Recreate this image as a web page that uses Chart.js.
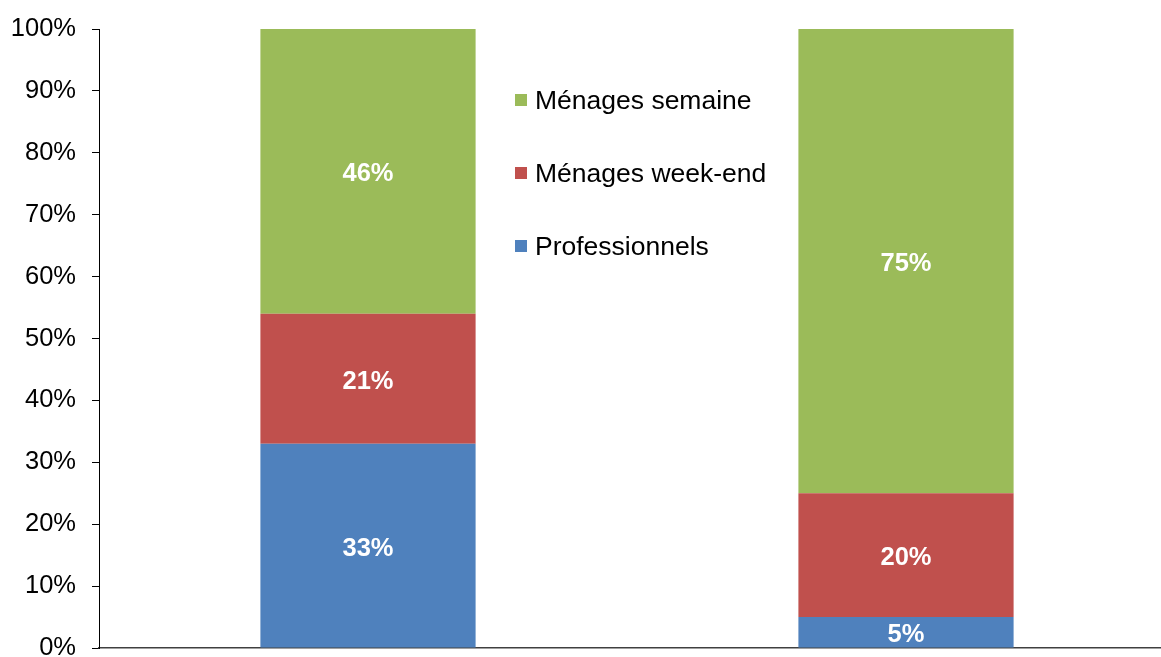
<!DOCTYPE html>
<html>
<head>
<meta charset="utf-8">
<script src="https://cdn.jsdelivr.net/npm/chart.js@4.4.1/dist/chart.umd.min.js"></script>
<style>
    html, body { margin: 0; padding: 0; background: #fff; overflow: hidden; }
    #wrap { position: relative; width: 1175px; height: 700px; }
    #legend { position: absolute; left: 515px; top: 84px; font-family: 'Liberation Sans', Arial, sans-serif; font-size: 26.5px; color: #000; line-height: 32px; }
    #legend .item { height: 73px; display: flex; align-items: flex-start; }
    #legend .box { width: 12px; height: 12px; margin-top: 10px; margin-right: 8px; }
</style>
</head>
<body>
<div id="wrap">
    <canvas id="chart" width="1175" height="700"></canvas>
    <div id="legend"></div>
</div>
<script>
const categories = ['A', 'B'];
const professionnels = [33, 5];
const menagesWeekEnd = [21, 20];
const menagesSemaine = [46, 75];
const yTicks = [0, 10, 20, 30, 40, 50, 60, 70, 80, 90, 100];

const datasets = [
    { label: 'Professionnels', data: professionnels, backgroundColor: '#4F81BD' },
    { label: 'Ménages week-end', data: menagesWeekEnd, backgroundColor: '#C0504D' },
    { label: 'Ménages semaine', data: menagesSemaine, backgroundColor: '#9BBB59' }
];

const legend = document.getElementById('legend');
datasets.slice().reverse().forEach(ds => {
    const item = document.createElement('div');
    item.className = 'item';
    item.innerHTML = '<span class="box" style="background:' + ds.backgroundColor + '"></span><span>' + ds.label + '</span>';
    legend.appendChild(item);
});

const barLabels = {
    id: 'barLabels',
    afterDatasetsDraw(chart) {
        const ctx = chart.ctx;
        ctx.save();
        ctx.fillStyle = '#fff';
        ctx.font = 'bold 25.5px "Liberation Sans", Arial, sans-serif';
        ctx.textAlign = 'center';
        ctx.textBaseline = 'middle';
        chart.data.datasets.forEach((ds, i) => {
            chart.getDatasetMeta(i).data.forEach((bar, j) => {
                const mid = (bar.y + bar.base) / 2;
                ctx.fillText(ds.data[j] + '%', bar.x, mid + 3);
            });
        });
        ctx.restore();
    }
};

new Chart(document.getElementById('chart'), {
    type: 'bar',
    data: {
        labels: categories,
        datasets: datasets.map(ds => Object.assign({}, ds, {
            barPercentage: 0.4,
            categoryPercentage: 1,
            borderWidth: 0
        }))
    },
    options: {
        responsive: false,
        animation: false,
        layout: { padding: { top: 29, bottom: 52, left: 0, right: 0 } },
        plugins: { legend: { display: false }, tooltip: { enabled: false } },
        scales: {
            x: {
                stacked: true,
                grid: { display: false },
                border: { color: '#404040', width: 1.5 },
                ticks: { display: false },
                afterFit(scale) { scale.height = 0; }
            },
            y: {
                stacked: true,
                min: 0,
                max: 100,
                afterBuildTicks(scale) { scale.ticks = yTicks.map(v => ({ value: v })); },
                afterFit(scale) {
                    scale.width = 99;
                    scale.paddingTop = 0;
                    scale.paddingBottom = 0;
                },
                grid: { drawOnChartArea: false, drawTicks: true, tickLength: 7, color: '#000' },
                border: { color: '#000', width: 1 },
                ticks: {
                    color: '#000',
                    padding: 16,
                    font: { family: '"Liberation Sans", Arial, sans-serif', size: 25.5 },
                    callback: v => v + '%'
                }
            }
        }
    },
    plugins: [barLabels]
});
</script>
</body>
</html>
